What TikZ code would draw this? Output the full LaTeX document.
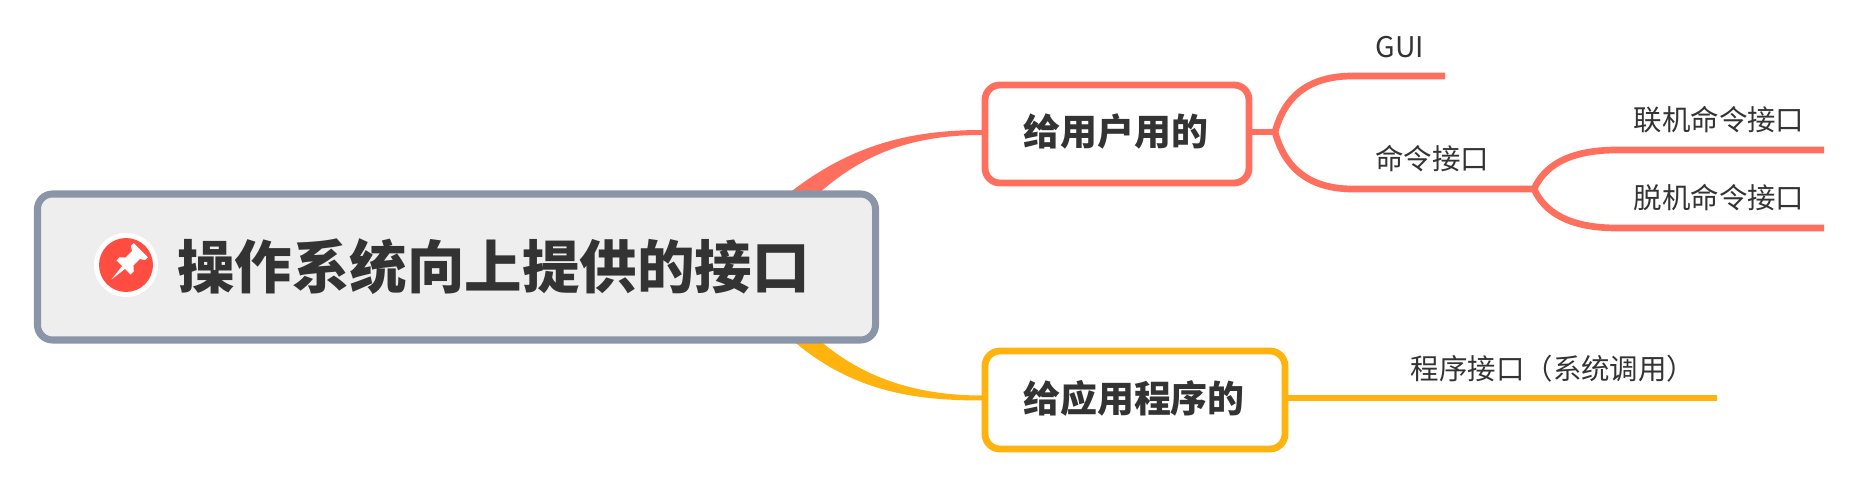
\documentclass[tikz,border=0pt]{standalone}
\usepackage{fontspec}
\setmainfont{Noto Sans CJK SC}
\newfontfamily\rootfont{Noto Sans CJK SC Black}
\usetikzlibrary{backgrounds}
\definecolor{rootline}{HTML}{8A95A8}
\definecolor{rootfill}{HTML}{EEEEEE}
\definecolor{textgray}{HTML}{333333}
\definecolor{userline}{HTML}{FF6F5E}
\definecolor{appline}{HTML}{FFB30F}
\definecolor{pinred}{HTML}{FF4D42}
\tikzset{
    rootbox/.style={draw=rootline,fill=rootfill,line width=4pt,rounded corners=0.3cm,minimum width=16.76cm,minimum height=2.92cm},
    subbox/.style={fill=white,line width=3.9pt,rounded corners=0.3cm,minimum height=1.96cm,inner sep=0pt},
    leaf/.style={text=textgray,font=\fontsize{16.2}{16.2}\selectfont,inner sep=0pt},
    subtext/.style={text=textgray,font=\fontsize{21}{21}\selectfont\bfseries,inner sep=0pt},
    branch/.style={line width=3.8pt,line cap=butt},
}
\begin{document}
\begin{tikzpicture}
    \useasboundingbox (0,0) rectangle (37.22,9.64);
    \node[rootbox] (root) at (9.13,4.3) {};
    \node[text=textgray,font=\fontsize{32.7}{32.7}\selectfont\rootfont,inner sep=0pt] (roottext) at (9.87,4.3) {操作系统向上提供的接口};
    \node[circle,fill=white,minimum size=1.28cm,inner sep=0pt] (pin) at (2.52,4.34) {};
    \node[circle,fill=pinred,minimum size=1.08cm,inner sep=0pt] (pinface) at (pin) {};
    % the pin itself
    \fill[white,rotate around={-45:(pin)}] (2.52,3.93)--(2.56,4.27)--(2.72,4.27)--(2.72,4.36)--(2.63,4.44)--(2.63,4.62)--(2.72,4.68)--(2.72,4.76)--(2.32,4.76)--(2.32,4.68)--(2.41,4.62)--(2.41,4.44)--(2.32,4.36)--(2.32,4.27)--(2.48,4.27)--cycle;

    \node[subbox,draw=userline,minimum width=5.28cm] (user) at (22.34,6.96) {};
    \node[subtext] (usertext) at (22.32,7.0) {给用户用的};
    \node[subbox,draw=appline,minimum width=6cm] (app) at (22.7,1.64) {};
    \node[subtext] (apptext) at (22.68,1.68) {给应用程序的};

    \node[leaf] (gui) at (28,8.7) {GUI};
    \node[leaf] (cmd) at (28.64,6.46) {命令接口};
    \node[leaf] (online) at (34.38,7.24) {联机命令接口};
    \node[leaf] (offline) at (34.38,5.68) {脱机命令接口};
    \node[leaf] (prog) at (31.06,2.26) {程序接口（系统调用）};

    \coordinate (userout) at (25.04,7);
    \coordinate (appout) at (25.76,1.68);
    \coordinate (userfork) at (25.5,7);
    \coordinate (cmdfork) at (30.68,5.86);
    \coordinate (guiend) at (28.9,8.12);
    \coordinate (onlineend) at (36.48,6.64);
    \coordinate (offlineend) at (36.48,5.08);
    \coordinate (progend) at (34.34,1.68);

    \draw[branch,userline] (userout)--(userfork);
    \draw[branch,userline] (userfork) .. controls (25.7,7.74) and (26.2,8.12) .. (27.06,8.12)--(guiend);
    \draw[branch,userline] (userfork) .. controls (25.7,6.26) and (26.2,5.86) .. (27.06,5.86)--(cmdfork);
    \draw[branch,userline] (cmdfork) .. controls (30.88,6.3) and (31.34,6.64) .. (32.34,6.64)--(onlineend);
    \draw[branch,userline] (cmdfork) .. controls (30.88,5.42) and (31.34,5.08) .. (32.34,5.08)--(offlineend);
    \draw[branch,appline] (appout)--(progend);

    \begin{scope}[on background layer]
        \fill[userline] (15.76,5.76) .. controls (17,6.74) and (18.2,7.04) .. (19.64,7.04)--(19.64,6.94) .. controls (18.3,6.94) and (17.3,6.6) .. (16.36,5.76)--cycle;
        \fill[appline] (16.36,2.86) .. controls (17.3,2.04) and (18.4,1.73) .. (19.64,1.73)--(19.64,1.63) .. controls (18.2,1.63) and (17,1.84) .. (15.82,2.86)--cycle;
    \end{scope}
\end{tikzpicture}
\end{document}
